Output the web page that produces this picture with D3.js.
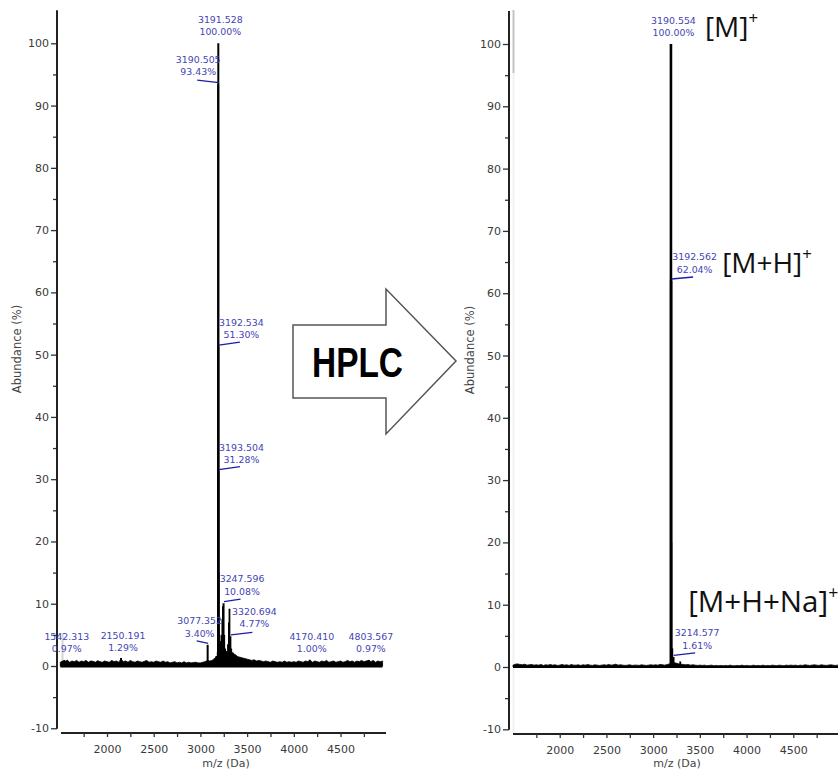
<!DOCTYPE html>
<html>
<head>
<meta charset="utf-8">
<script src="https://cdn.jsdelivr.net/npm/d3@7/dist/d3.min.js"></script>
<style>
  html, body { margin: 0; padding: 0; background: #fff; }
  svg { display: block; }
</style>
</head>
<body>
<svg id="chart" width="838" height="771"></svg>
<script>
// ---------- axis ticks ----------
const yTickValues = [-10, 0, 10, 20, 30, 40, 50, 60, 70, 80, 90, 100];
const yMinorValues = [-5, 5, 15, 25, 35, 45, 55, 65, 75, 85, 95];
const xTickLabels = [2000, 2500, 3000, 3500, 4000, 4500];
const xMinorTicks = [1750, 2000, 2250, 2500, 2750, 3000, 3250, 3500, 3750, 4000, 4250, 4500, 4750];

// ---------- crude product (before HPLC) ----------
const crudeLabelMz = [1542.313, 2150.191, 3077.352, 3190.505, 3191.528, 3192.534, 3193.504, 3247.596, 3320.694, 4170.410, 4803.567];
const crudeLabelAbundance = [0.97, 1.29, 3.40, 93.43, 100.00, 51.30, 31.28, 10.08, 4.77, 1.00, 0.97];
const crudePeakMz = [3170, 3185, 3194.5, 3195.5, 3205, 3215, 3225, 3235, 3241, 3255, 3265, 3280, 3295, 3305, 3311, 3330, 3345, 3365, 3390];
const crudePeakAbundance = [1.6, 2.2, 15, 6, 3.5, 4, 5, 7.5, 9.6, 5, 2.8, 2.4, 3.5, 7, 9.2, 2.8, 2.2, 1.8, 1.5];
// baseline noise sampled every 25 Da from 1500 Da
const crudeNoiseStart = 1500, crudeNoiseStep = 25;
const crudeNoise = [
  0.6, 0.8, 0.7, 0.95, 0.6, 0.8, 0.7, 0.9, 0.6, 0.8,
  0.7, 0.9, 0.6, 0.8, 0.75, 0.6, 0.85, 0.7, 0.6, 0.8,
  0.7, 0.6, 0.9, 0.7, 0.8, 0.6, 1.1, 0.7, 0.8, 0.6,
  0.9, 0.7, 0.6, 0.8, 0.7, 0.6, 0.75, 0.9, 0.6, 0.7,
  0.6, 0.8, 0.7, 0.6, 0.8, 0.6, 0.7, 0.5, 0.6, 0.7,
  0.5, 0.6, 0.5, 0.7, 0.5, 0.6, 0.5, 0.55, 0.6, 0.5,
  0.5, 0.6, 0.7, 0.9, 0.8, 0.9, 1.2, 1.5, 1.8, 2.0,
  2.2, 2.0, 1.8, 1.6, 2.0, 1.8, 1.5, 1.4, 1.3, 1.2,
  1.1, 1.0, 0.9, 1.0, 0.8, 0.9, 0.8, 0.7, 0.8, 0.7,
  0.6, 0.8, 0.7, 0.6, 0.7, 0.6, 0.8, 0.6, 0.7, 0.6,
  0.7, 0.6, 0.8, 0.7, 0.6, 0.8, 0.7, 0.9, 0.6, 0.8,
  0.7, 0.6, 0.8, 0.7, 0.9, 0.6, 0.7, 0.8, 0.6, 0.7,
  0.8, 0.6, 0.7, 0.9, 0.7, 0.8, 0.6, 0.8, 0.7, 0.9,
  0.7, 0.8, 0.9, 0.7, 0.9, 0.6, 0.8, 0.7, 0.8
];

// ---------- purified product (after HPLC) ----------
const pureLabelMz = [3190.554, 3192.562, 3214.577];
const pureLabelAbundance = [100.00, 62.04, 1.61];
const purePeakMz = [3194.5, 3205, 3290];
const purePeakAbundance = [20, 3.0, 0.9];
const pureIons = ["[M]", "[M+H]", "[M+H+Na]"];
const pureNoiseStart = 1500, pureNoiseStep = 25;
const pureNoise = [
  0.3, 0.45, 0.5, 0.4, 0.35, 0.45, 0.3, 0.35, 0.4, 0.3,
  0.35, 0.3, 0.4, 0.25, 0.35, 0.3, 0.4, 0.3, 0.35, 0.25,
  0.3, 0.4, 0.3, 0.35, 0.25, 0.4, 0.3, 0.3, 0.35, 0.25,
  0.35, 0.3, 0.4, 0.3, 0.25, 0.35, 0.3, 0.25, 0.3, 0.35,
  0.3, 0.4, 0.3, 0.35, 0.45, 0.3, 0.35, 0.3, 0.25, 0.3,
  0.35, 0.25, 0.3, 0.3, 0.25, 0.35, 0.3, 0.25, 0.3, 0.35,
  0.3, 0.35, 0.3, 0.4, 0.35, 0.3, 0.4, 0.5, 0.6, 0.7,
  0.6, 0.5, 0.45, 0.4, 0.35, 0.4, 0.3, 0.35, 0.3, 0.25,
  0.3, 0.25, 0.3, 0.2, 0.25, 0.3, 0.2, 0.25, 0.2, 0.25,
  0.2, 0.25, 0.2, 0.3, 0.2, 0.2, 0.25, 0.2, 0.3, 0.2,
  0.25, 0.2, 0.2, 0.3, 0.2, 0.25, 0.2, 0.3, 0.2, 0.25,
  0.2, 0.3, 0.25, 0.2, 0.3, 0.25, 0.2, 0.3, 0.25, 0.3,
  0.25, 0.3, 0.2, 0.3, 0.25, 0.35, 0.3, 0.25, 0.3, 0.35,
  0.3, 0.25, 0.35, 0.3, 0.25, 0.3, 0.35, 0.3, 0.25, 0.3,
  0.3
];

// ---------- annotation layout (pixel offsets from the peak top) ----------
const crudeLabelLayout = [
  { dx: 2.5, dy: [-20, -8], leader: null },
  { dx: 2, dy: [-19, -7], leader: null },
  { dx: -8, dy: [-21, -8], leader: [-11, -4] },
  { dx: -20, dy: [-21, -9], leader: [-21, -4] },
  { dx: 2, dy: [-20, -8], leader: null },
  { dx: 23, dy: [-20.5, -8.5], leader: [21.5, -4.5] },
  { dx: 23, dy: [-20.5, -8.5], leader: [21.5, -4.5] },
  { dx: 18.5, dy: [-21, -8], leader: [17, -4] },
  { dx: 24, dy: [-21, -9], leader: [22, -4] },
  { dx: 2, dy: [-20, -8], leader: null },
  { dx: 2, dy: [-20, -8], leader: null }
];
const pureLabelLayout = [
  { dx: 2.5, dy: [-20, -8], leader: null },
  { dx: 23.5, dy: [-20.5, -7.5], leader: [22, -3.5] },
  { dx: 24, dy: [-21, -8], leader: [22, -4] }
];
const pureIonLayout = [
  { dx: 34, dy: -7, size: 28 },
  { dx: 51, dy: -7.5, size: 28 },
  { dx: 15, dy: -45, size: 29.5 }
];

const svg = d3.select("#chart");
svg.append("rect").attr("width", 838).attr("height", 771).attr("fill", "#fff");

const AXIS_FONT = "'DejaVu Sans', Verdana, sans-serif";
const LABEL_BLUE = "#4444b4";
const LEADER_BLUE = "#1c1ca6";

function drawPanel(p) {
  const g = svg.append("g");
  const x = d3.scaleLinear().domain(p.mzDomain).range(p.xRange);
  const y = d3.scaleLinear().domain([0, 100]).range(p.yRange);

  // faint guide lines
  (p.guides || []).forEach(gd => {
    g.append("line")
      .attr("x1", gd.x).attr("x2", gd.x).attr("y1", gd.y1).attr("y2", gd.y2)
      .attr("stroke", gd.color).attr("stroke-width", 2);
  });

  // y axis
  const ga = g.append("g").attr("transform", `translate(${p.axisX},0)`);
  ga.call(d3.axisLeft(y).tickValues(yTickValues).tickSize(6).tickPadding(2).tickFormat(d => String(d)));
  ga.append("g").call(d3.axisLeft(y).tickValues(yMinorValues).tickSize(4).tickFormat(""));
  ga.selectAll(".domain").remove();
  ga.selectAll(".tick line").attr("stroke", "#333").attr("stroke-width", 1.3);
  ga.selectAll("text").attr("font-family", AXIS_FONT).attr("font-size", 11).attr("fill", "#3a3a3a");
  ga.append("line").attr("x1", 0).attr("x2", 0)
    .attr("y1", y(105.3)).attr("y2", y(-10) + 0.5)
    .attr("stroke", "#222").attr("stroke-width", 2);

  // x axis
  const gx = g.append("g").attr("transform", `translate(0,${p.xAxisY})`);
  gx.call(d3.axisBottom(x).tickValues(xMinorTicks).tickSize(4).tickSizeOuter(0).tickPadding(8)
    .tickFormat(d => xTickLabels.includes(d) ? String(d) : ""));
  gx.select(".domain").attr("stroke", "#222").attr("stroke-width", 2)
    .attr("d", `M${p.xAxisStart},0H${p.xAxisEnd}`);
  gx.selectAll(".tick line").attr("stroke", "#333").attr("stroke-width", 1.3);
  gx.selectAll("text").attr("font-family", AXIS_FONT).attr("font-size", 11).attr("fill", "#3a3a3a");

  // axis titles
  g.append("text")
    .attr("transform", `translate(${p.yTitleX},${p.yTitleY}) rotate(-90)`)
    .attr("text-anchor", "middle").attr("font-family", AXIS_FONT).attr("font-size", 11.5)
    .attr("fill", "#444").text("Abundance (%)");
  g.append("text")
    .attr("x", p.xTitleX).attr("y", 767)
    .attr("text-anchor", "middle").attr("font-family", AXIS_FONT).attr("font-size", 11)
    .attr("fill", "#444").text("m/z (Da)");

  // baseline noise as a filled band
  const noisePts = p.noise.map((v, i) => [p.noiseStart + i * p.noiseStep, v]);
  const area = d3.area().x(d => x(d[0])).y0(y(0)).y1(d => y(d[1]));
  g.append("path").datum(noisePts).attr("d", area)
    .attr("fill", "#000").attr("stroke", "#000").attr("stroke-width", 0.8);
  g.append("line")
    .attr("x1", x(p.noiseStart)).attr("x2", x(p.noiseStart + (p.noise.length - 1) * p.noiseStep))
    .attr("y1", y(0)).attr("y2", y(0))
    .attr("stroke", "#000").attr("stroke-width", p.baseWidth);

  // unlabelled peaks
  g.selectAll(null).data(d3.zip(p.peakMz, p.peakAb)).join("line")
    .attr("x1", d => x(d[0])).attr("x2", d => x(d[0]))
    .attr("y1", y(0)).attr("y2", d => y(d[1]))
    .attr("stroke", "#000").attr("stroke-width", 1.8);

  // labelled peaks
  const labelled = d3.zip(p.labelMz, p.labelAb, p.layout);
  g.selectAll(null).data(labelled).join("line")
    .attr("x1", d => x(d[0])).attr("x2", d => x(d[0]))
    .attr("y1", y(0)).attr("y2", d => y(d[1]))
    .attr("stroke", "#000").attr("stroke-width", p.mainWidth);

  labelled.forEach(([mz, ab, lay]) => {
    const px = x(mz), py = y(ab);
    if (lay.leader) {
      g.append("path")
        .attr("d", `M${px + 0.5},${py - 1.5}L${px + lay.leader[0]},${py + lay.leader[1]}`)
        .attr("fill", "none").attr("stroke", LEADER_BLUE).attr("stroke-width", 1.3);
    }
    const t = g.append("text").attr("text-anchor", "middle")
      .attr("font-family", AXIS_FONT).attr("font-size", 9.4).attr("fill", LABEL_BLUE);
    t.append("tspan").attr("x", px + lay.dx).attr("y", py + lay.dy[0]).text(mz.toFixed(3));
    t.append("tspan").attr("x", px + lay.dx).attr("y", py + lay.dy[1]).text(ab.toFixed(2) + "%");
  });

  return { g, x, y };
}

// before purification
drawPanel({
  mzDomain: [1500, 4990], xRange: [60.3, 386.3], yRange: [666, 43.3],
  axisX: 57, xAxisY: 733, xAxisStart: 61, xAxisEnd: 386,
  yTitleX: 21, yTitleY: 349, xTitleX: 226,
  noise: crudeNoise, noiseStart: crudeNoiseStart, noiseStep: crudeNoiseStep, baseWidth: 3,
  peakMz: crudePeakMz, peakAb: crudePeakAbundance,
  labelMz: crudeLabelMz, labelAb: crudeLabelAbundance, layout: crudeLabelLayout,
  mainWidth: 2,
  guides: [{ x: 62.5, y1: 633, y2: 664, color: "#d4d4d4" }]
});

// after purification
const pure = drawPanel({
  mzDomain: [1500, 5000], xRange: [513, 840], yRange: [667, 44],
  axisX: 509, xAxisY: 734, xAxisStart: 513, xAxisEnd: 840,
  yTitleX: 474, yTitleY: 350, xTitleX: 677,
  noise: pureNoise, noiseStart: pureNoiseStart, noiseStep: pureNoiseStep, baseWidth: 2.2,
  peakMz: purePeakMz, peakAb: purePeakAbundance,
  labelMz: pureLabelMz, labelAb: pureLabelAbundance, layout: pureLabelLayout,
  mainWidth: 2.6,
  guides: [
    { x: 513.5, y1: 10, y2: 73, color: "#c4c4c4" },
    { x: 513.5, y1: 73, y2: 733, color: "#f1f1f1" }
  ]
});

// ion assignments next to the purified peaks
pureIons.forEach((ion, i) => {
  const lay = pureIonLayout[i];
  const px = pure.x(pureLabelMz[i]), py = pure.y(pureLabelAbundance[i]);
  const t = pure.g.append("text")
    .attr("x", px + lay.dx).attr("y", py + lay.dy)
    .attr("font-family", "'Open Sans', 'Noto Sans', sans-serif")
    .attr("font-size", lay.size).attr("fill", "#111");
  t.append("tspan").text(ion);
  t.append("tspan").attr("font-size", lay.size * 0.6).attr("dy", -lay.size * 0.45).text("+");
});

// HPLC block arrow between the two spectra
const arrowPts = [[293, 325], [386, 325], [386, 289], [456, 361], [386, 434], [386, 398], [293, 398]];
svg.append("polygon")
  .attr("points", arrowPts.map(p => p.join(",")).join(" "))
  .attr("fill", "#fff").attr("stroke", "#555").attr("stroke-width", 1.5)
  .attr("stroke-linejoin", "miter");
svg.append("text")
  .attr("x", 312).attr("y", 377)
  .attr("font-family", "'Liberation Sans Narrow', 'Liberation Sans', Arial, sans-serif")
  .attr("font-weight", "bold").attr("font-size", 42).attr("fill", "#000")
  .attr("textLength", 91).attr("lengthAdjust", "spacingAndGlyphs")
  .text("HPLC");
</script>
</body>
</html>
